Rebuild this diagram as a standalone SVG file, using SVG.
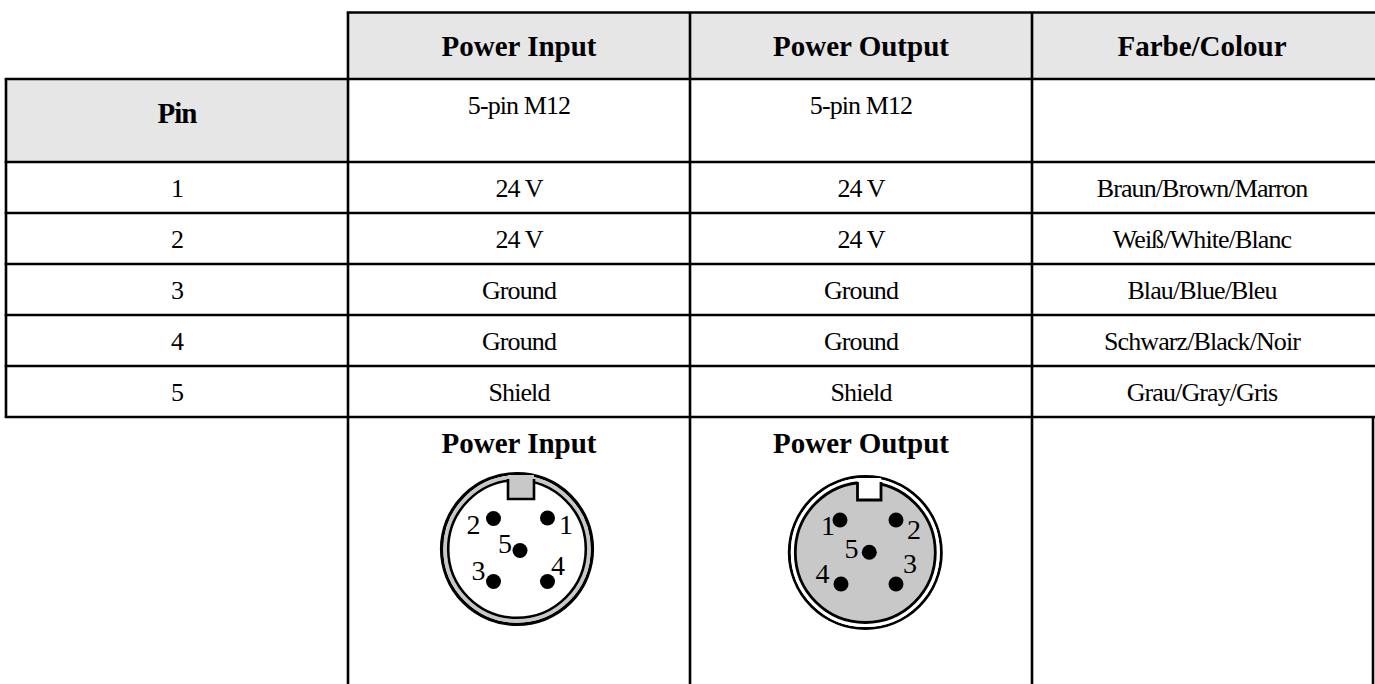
<svg xmlns="http://www.w3.org/2000/svg" width="1375" height="684" viewBox="0 0 1375 684">
<style>
.hdr{font-family:"Liberation Serif","Times New Roman",serif;font-weight:bold;font-size:29px;fill:#000;text-anchor:middle}
.cell{font-family:"Liberation Serif","Times New Roman",serif;font-size:26px;fill:#000;text-anchor:middle;letter-spacing:-0.9px}
.num{font-family:"Liberation Serif","Times New Roman",serif;font-size:28px;fill:#000;text-anchor:middle}
.ln{stroke:#000;stroke-width:2.6;fill:none}
.pin{fill:#000}
</style>
<rect width="1375" height="684" fill="#fff"/>
<g id="table-fills">
<rect x="348" y="12.5" width="1030" height="66.5" fill="#e6e6e6"/>
<rect x="6" y="79" width="342" height="83" fill="#e6e6e6"/>
</g>
<g id="grid">
<line class="ln" x1="346.7" y1="12.5" x2="1378" y2="12.5"/>
<line class="ln" x1="4.7" y1="79" x2="1378" y2="79"/>
<line class="ln" x1="4.7" y1="162" x2="1378" y2="162"/>
<line class="ln" x1="4.7" y1="213" x2="1378" y2="213"/>
<line class="ln" x1="4.7" y1="264" x2="1378" y2="264"/>
<line class="ln" x1="4.7" y1="315" x2="1378" y2="315"/>
<line class="ln" x1="4.7" y1="366" x2="1378" y2="366"/>
<line class="ln" x1="4.7" y1="417" x2="1378" y2="417"/>
<line class="ln" x1="6" y1="79" x2="6" y2="417"/>
<line class="ln" x1="348" y1="12.5" x2="348" y2="684"/>
<line class="ln" x1="690" y1="12.5" x2="690" y2="684"/>
<line class="ln" x1="1032" y1="12.5" x2="1032" y2="684"/>
<line class="ln" x1="1373" y1="417" x2="1373" y2="684"/>
</g>
<g id="header">
<text class="hdr" x="519" y="56">Power Input</text>
<text class="hdr" x="861" y="56">Power Output</text>
<text class="hdr" x="1202" y="56">Farbe/Colour</text>
<text class="hdr" x="177" y="123" style="letter-spacing:-1px">Pin</text>
<text class="cell" x="519" y="114">5-pin M12</text>
<text class="cell" x="861" y="114">5-pin M12</text>
</g>
<g id="rows">
<text class="cell" x="177" y="197">1</text>
<text class="cell" x="519" y="197">24 V</text>
<text class="cell" x="861" y="197">24 V</text>
<text class="cell" x="1202" y="197">Braun/Brown/Marron</text>
<text class="cell" x="177" y="248">2</text>
<text class="cell" x="519" y="248">24 V</text>
<text class="cell" x="861" y="248">24 V</text>
<text class="cell" x="1202" y="248">Weiß/White/Blanc</text>
<text class="cell" x="177" y="299">3</text>
<text class="cell" x="519" y="299">Ground</text>
<text class="cell" x="861" y="299">Ground</text>
<text class="cell" x="1202" y="299">Blau/Blue/Bleu</text>
<text class="cell" x="177" y="350">4</text>
<text class="cell" x="519" y="350">Ground</text>
<text class="cell" x="861" y="350">Ground</text>
<text class="cell" x="1202" y="350">Schwarz/Black/Noir</text>
<text class="cell" x="177" y="401">5</text>
<text class="cell" x="519" y="401">Shield</text>
<text class="cell" x="861" y="401">Shield</text>
<text class="cell" x="1202" y="401">Grau/Gray/Gris</text>
</g>
<g id="connector-input">
<text class="hdr" x="519" y="453">Power Input</text>
<circle cx="517" cy="549" r="75.4" fill="none" stroke="#000" stroke-width="3.4"/>
<circle cx="517" cy="549" r="71.9" fill="none" stroke="#c8c8c8" stroke-width="3.6"/>
<circle cx="517" cy="549" r="68.8" fill="#fff" stroke="#000" stroke-width="2.6"/>
<rect x="508" y="475" width="26" height="24" fill="#c8c8c8"/>
<path d="M508,479 V499 H534 V479" fill="none" stroke="#000" stroke-width="2.6"/>
<circle class="pin" cx="493.5" cy="518.5" r="7.5"/>
<circle class="pin" cx="547.5" cy="518" r="7.5"/>
<circle class="pin" cx="520" cy="550.5" r="7.5"/>
<circle class="pin" cx="493.5" cy="581.5" r="7.5"/>
<circle class="pin" cx="547.5" cy="581.5" r="7.5"/>
<text class="num" x="473.5" y="534">2</text>
<text class="num" x="566" y="534">1</text>
<text class="num" x="505" y="553">5</text>
<text class="num" x="478.5" y="580">3</text>
<text class="num" x="558" y="575">4</text>
</g>
<g id="connector-output">
<text class="hdr" x="861" y="453">Power Output</text>
<circle cx="865.3" cy="552.5" r="76" fill="none" stroke="#000" stroke-width="3"/>
<circle cx="865.3" cy="552.5" r="72.9" fill="none" stroke="#fff" stroke-width="3.2"/>
<circle cx="865.3" cy="552.5" r="70" fill="#c8c8c8" stroke="#000" stroke-width="2.8"/>
<rect x="857.5" y="478" width="23.5" height="22" fill="#fff"/>
<path d="M857.5,482 V500 H881 V482" fill="none" stroke="#000" stroke-width="2.8"/>
<circle class="pin" cx="840" cy="520" r="7.5"/>
<circle class="pin" cx="896" cy="520" r="7.5"/>
<circle class="pin" cx="869.3" cy="552.3" r="7.5"/>
<circle class="pin" cx="841" cy="584" r="7.5"/>
<circle class="pin" cx="896" cy="584" r="7.5"/>
<text class="num" x="828" y="535">1</text>
<text class="num" x="914" y="539">2</text>
<text class="num" x="851.5" y="558">5</text>
<text class="num" x="822.5" y="583">4</text>
<text class="num" x="910" y="573">3</text>
</g>
</svg>
